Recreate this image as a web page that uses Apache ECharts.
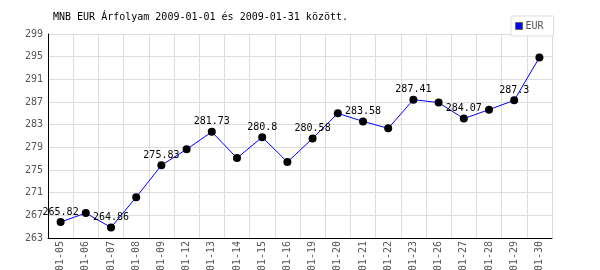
<!DOCTYPE html>
<html><head><meta charset="utf-8">
<script src="https://cdn.jsdelivr.net/npm/echarts@6/dist/echarts.min.js"></script>
<style>html,body{margin:0;padding:0;background:#fff}#c{width:600px;height:270px}</style>
</head><body><div id="c"></div>
<script>
const titleText = 'MNB EUR Árfolyam 2009-01-01 és 2009-01-31 között.';
const seriesName = 'EUR';
const categories = ['01-05','01-06','01-07','01-08','01-09','01-12','01-13','01-14','01-15','01-16','01-19','01-20','01-21','01-22','01-23','01-26','01-27','01-28','01-29','01-30'];
const values = [265.82, 267.4, 264.86, 270.2, 275.83, 278.65, 281.73, 277.1, 280.8, 276.4, 280.58, 285.0, 283.58, 282.35, 287.41, 286.9, 284.07, 285.65, 287.3, 294.85];
const yMin = 263, yMax = 299, yStep = 4;

const FONT = "'DejaVu Sans Mono', monospace";
const chart = echarts.init(document.getElementById('c'), null, {renderer: 'canvas'});
chart.setOption({
  animation: false,
  backgroundColor: '#fff',
  title: {
    text: titleText, left: 53, top: 12, padding: 0,
    textStyle: {fontFamily: FONT, fontSize: 10, fontWeight: 'normal', color: '#000'}
  },
  legend: {
    left: 511, top: 16, padding: [5, 10, 5, 4], z: 10,
    backgroundColor: '#fff', borderColor: '#ddd', borderWidth: 1,
    itemWidth: 7, itemHeight: 7, itemGap: 4,
    textStyle: {fontFamily: FONT, fontSize: 10, color: '#555', padding: [0, 0, 0, -2]},
    data: [{name: seriesName, icon: 'rect', itemStyle: {color: '#0000ff', borderColor: '#666', borderWidth: 1}}]
  },
  grid: {left: 48, right: 48, top: 34, bottom: 32, containLabel: false, outerBoundsMode: 'none'},
  xAxis: {
    type: 'category', data: categories, boundaryGap: true,
    axisLine: {lineStyle: {color: '#000', width: 1}},
    axisTick: {show: false},
    splitLine: {show: true, lineStyle: {color: '#ddd', width: 1}},
    axisLabel: {rotate: 90, margin: 3, fontFamily: FONT, fontSize: 10, color: '#555', interval: 0}
  },
  yAxis: {
    type: 'value', min: yMin, max: yMax, interval: yStep,
    axisLine: {show: true, lineStyle: {color: '#000', width: 1}},
    axisTick: {show: false},
    splitLine: {show: true, lineStyle: {color: '#ddd', width: 1}},
    axisLabel: {margin: 5, fontFamily: FONT, fontSize: 10, color: '#555'}
  },
  series: [{
    name: seriesName, type: 'line', data: values,
    symbol: 'circle', symbolSize: 8,
    itemStyle: {color: '#000'},
    lineStyle: {color: '#0000ff', width: 1},
    label: {
      show: true, position: 'top', distance: 1,
      fontFamily: FONT, fontSize: 10, color: '#000',
      formatter: p => (p.dataIndex % 2 === 0 ? String(p.value) : '')
    }
  }]
});
</script></body></html>
